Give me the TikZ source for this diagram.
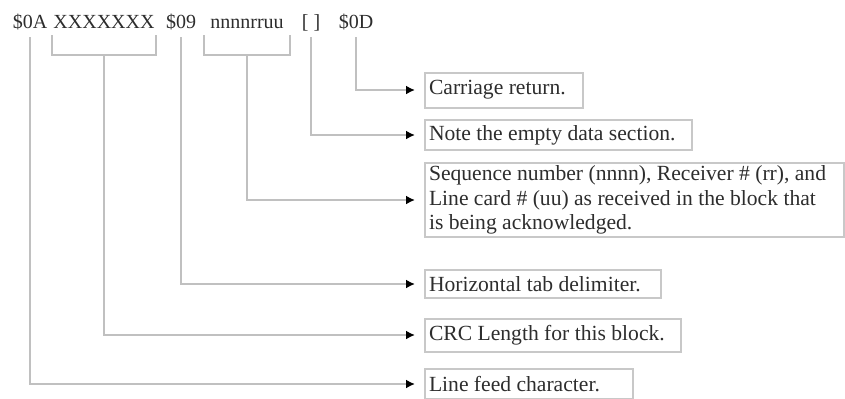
\documentclass[tikz,border=0pt]{standalone}
\usepackage{fontspec}
\setmainfont{Liberation Serif}
\usetikzlibrary{arrows.meta}
\definecolor{leadgray}{RGB}{192,192,192}
\definecolor{boxgray}{RGB}{200,200,200}
\definecolor{inkgray}{RGB}{45,45,45}

\begin{document}
\begin{tikzpicture}[x=0.5pt, y=-0.5pt, line width=1pt,
    field/.style={anchor=base, inner sep=0pt, font=\fontsize{10}{12}\selectfont, text=inkgray},
    descbox/.style={draw=boxgray, anchor=west, align=flush left, inner xsep=2pt, inner ysep=1pt, font=\fontsize{10.8}{12.2}\selectfont, text=inkgray},
    lead/.style={draw=leadgray},
    leadarrow/.style={lead, -{Latex[length=4.5pt,width=4.5pt,black]}, shorten >=4.5pt}]
    \useasboundingbox (0,0) rectangle (845,398);

    % Block fields
    \node[field] (LF) at (30,28) {\$0A};
    \node[field, minimum width=49pt] (CRC) at (104,28) {XXXXXXX};
    \node[field] (HT) at (181,28) {\$09};
    \node[field, minimum width=42pt] (Seq) at (247,28) {nnnnrruu};
    \node[field] (Data) at (311,28) {[ ]};
    \node[field] (CR) at (356,28) {\$0D};

    % Description boxes
    \node[descbox, text width=75pt, minimum height=17.5pt] (CRbox) at (424,90) {Carriage return.};
    \node[descbox, text width=129.5pt, minimum height=15pt] (Databox) at (424,135) {Note the empty data section.};
    \node[descbox, text width=205.5pt, minimum height=37pt] (Seqbox) at (424,200) {Sequence number (nnnn), Receiver \# (rr), and\\Line card \# (uu) as received in the block that\\is being acknowledged.};
    \node[descbox, text width=114pt, minimum height=14pt] (HTbox) at (424,284) {Horizontal tab delimiter.};
    \node[descbox, text width=124pt, minimum height=16.5pt] (CRCbox) at (424,335) {CRC Length for this block.};
    \node[descbox, text width=100pt, minimum height=15pt] (LFbox) at (424,384) {Line feed character.};

    % Brackets under multi-character fields
    \draw[lead] ([yshift=-3.5pt]CRC.base west) |- ([yshift=-13.5pt]CRC.base) -| ([yshift=-3.5pt]CRC.base east);
    \draw[lead] ([yshift=-3.5pt]Seq.base west) |- ([yshift=-13.5pt]Seq.base) -| ([yshift=-3.5pt]Seq.base east);

    % Leader lines
    \draw[leadarrow] ([yshift=-4.5pt]CR.base) |- (CRbox.west);
    \draw[leadarrow] ([yshift=-4.5pt]Data.base) |- (Databox.west);
    \draw[leadarrow] ([yshift=-13.5pt]Seq.base) |- (Seqbox.west);
    \draw[leadarrow] ([yshift=-4.5pt]HT.base) |- (HTbox.west);
    \draw[leadarrow] ([yshift=-13.5pt]CRC.base) |- (CRCbox.west);
    \draw[leadarrow] ([yshift=-4.5pt]LF.base) |- (LFbox.west);
\end{tikzpicture}
\end{document}
